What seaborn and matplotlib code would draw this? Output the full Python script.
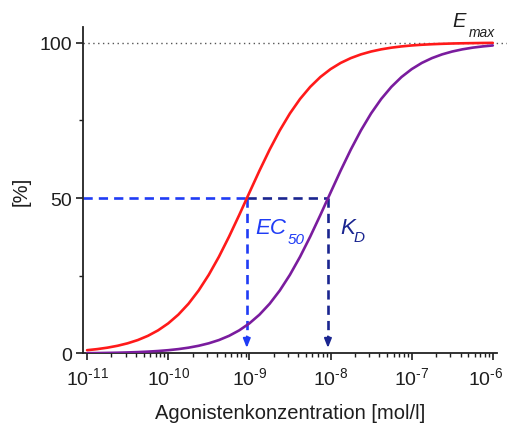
import numpy as np
import pandas as pd
import matplotlib
matplotlib.use("Agg")
import matplotlib.pyplot as plt
import matplotlib.transforms as mtransforms
import seaborn as sns

# Concentration grid: log10 (mol/l), eighth-decade steps from -11 to -6
log_start, log_stop, steps_per_decade = -11.0, -6.0, 8
# Response (%) – functional effect curve
effect = [1.06, 1.41, 1.87, 2.48, 3.28, 4.32, 5.68, 7.44, 9.68, 12.50,
          16.00, 20.26, 25.31, 31.12, 37.60, 44.54, 51.72, 58.83, 65.58, 71.76,
          77.22, 81.88, 85.76, 88.93, 91.46, 93.46, 95.01, 96.21, 97.13, 97.83,
          98.37, 98.77, 99.08, 99.31, 99.48, 99.61, 99.71, 99.78, 99.83, 99.88,
          99.91]
# Response (%) – receptor occupancy curve
occupancy = [0.11, 0.14, 0.19, 0.25, 0.34, 0.45, 0.60, 0.80, 1.06, 1.41,
             1.87, 2.48, 3.28, 4.32, 5.68, 7.44, 9.68, 12.50, 16.00, 20.26,
             25.31, 31.12, 37.60, 44.54, 51.72, 58.83, 65.58, 71.76, 77.22, 81.88,
             85.76, 88.93, 91.46, 93.46, 95.01, 96.21, 97.13, 97.83, 98.37, 98.77,
             99.08]

ec50 = 0.93e-9
kd = 0.93e-8
half = 50
emax = 100
y_ticks = [0, 50, 100]
y_minor = [25, 75]
x_exponents = [-11, -10, -9, -8, -7, -6]

sns.set_theme(style="ticks")
plt.rcParams["font.family"] = ["Liberation Sans", "DejaVu Sans"]
plt.rcParams["mathtext.fontset"] = "custom"
plt.rcParams["mathtext.rm"] = "Liberation Sans"
plt.rcParams["mathtext.it"] = "Liberation Sans:italic"
plt.rcParams["mathtext.bf"] = "Liberation Sans:bold"

n_pts = len(effect)
conc = list(np.logspace(log_start, log_stop, n_pts))
df = pd.DataFrame({
    "conc": conc * 2,
    "resp": effect + occupancy,
    "curve": ["effect"] * n_pts + ["occupancy"] * n_pts,
})

fig = plt.figure(figsize=(5.07, 4.27), dpi=100)
ax = fig.add_axes([0.1637, 0.1698, 0.8163, 0.7645])

red = "#ff1a1a"
purple = "#7a1c9e"
blue = "#1f3cf5"
navy = "#1a2590"
ink = "#1e1e1e"

sns.lineplot(data=df, x="conc", y="resp", hue="curve",
             palette={"effect": red, "occupancy": purple},
             linewidth=1.9, legend=False, ax=ax, zorder=3)

ax.set_xscale("log")
xmin, xmax = 10 ** -11.05, 10 ** -5.95
ax.set_xlim(xmin, xmax)
ax.set_ylim(0, 105)

# Emax reference line
ax.axhline(emax, xmin=0, xmax=1.03, color="#555555", lw=1.0,
           ls=(0, (1, 2.5)), clip_on=False, zorder=1)

# Dashed guides at half-maximal response
dash = (0, (3.5, 2.3))
ax.plot([xmin, ec50], [half, half], color=blue, lw=1.9, ls=dash, zorder=2)
ax.plot([ec50, kd], [half, half], color=navy, lw=1.9, ls=dash, zorder=2)
ax.plot([ec50, ec50], [half, 4.5], color=blue, lw=1.9, ls=dash, zorder=2)
ax.plot([kd, kd], [half, 4.5], color=navy, lw=1.9, ls=dash, zorder=2)
for xv, col in [(ec50, blue), (kd, navy)]:
    ax.annotate("", xy=(xv, 1.8), xytext=(xv, 5.5),
                arrowprops=dict(arrowstyle="-|>,head_length=0.45,head_width=0.18",
                                color=col, lw=1.4, shrinkA=0, shrinkB=0))

# Labels for EC50, KD and Emax
def label(xy, main, sub, color, main_off, sub_off, main_size, sub_size):
    ax.annotate(main, xy=xy, xytext=main_off, textcoords="offset pixels",
                color=color, fontsize=main_size, fontstyle="italic",
                ha="left", va="baseline", annotation_clip=False)
    ax.annotate(sub, xy=xy, xytext=sub_off, textcoords="offset pixels",
                color=color, fontsize=sub_size, fontstyle="italic",
                ha="left", va="baseline", annotation_clip=False)

label((ec50, half), "EC", "50", blue, (9, -35), (41, -45), 16, 11)
label((kd, half), "K", "D", navy, (12, -35), (26, -43), 16, 11)
label((xmax, emax), "E", "max", ink, (-44, 17), (-28, 7), 14.5, 10)

ax.set_yticks(y_ticks)
ax.set_yticks(y_minor, minor=True)
ax.set_yticklabels([str(t) for t in y_ticks])

major_x = [10.0 ** e for e in x_exponents]
minor_x = [m * 10.0 ** e for e in x_exponents[:-1] for m in range(2, 10)]
ax.set_xticks(major_x)
ax.set_xticks(minor_x, minor=True)
ax.set_xticklabels(["$10^{\u2010%d}$" % -e for e in x_exponents])
ax.set_xticklabels([], minor=True)

for s in ["top", "right"]:
    ax.spines[s].set_visible(False)
for s in ["left", "bottom"]:
    ax.spines[s].set_linewidth(1.3)
    ax.spines[s].set_color("#222222")

ax.tick_params(axis="both", which="major", direction="out", length=5, width=1.2,
               labelsize=14, colors=ink, pad=3)
ax.tick_params(axis="x", which="major", pad=4)
ax.tick_params(axis="both", which="minor", direction="out", length=3, width=1.0,
               colors=ink)

# Keep the last decade label inside the canvas
last = ax.get_xticklabels()[-1]
last.set_transform(last.get_transform() +
                   mtransforms.ScaledTranslation(-7 / 100, 0, fig.dpi_scale_trans))

ax.set_xlabel("Agonistenkonzentration [mol/l]", fontsize=14.5, color=ink, labelpad=11)
ax.set_ylabel("[%]", fontsize=14.5, color=ink, labelpad=6)

fig.savefig("out.png", dpi=100)
